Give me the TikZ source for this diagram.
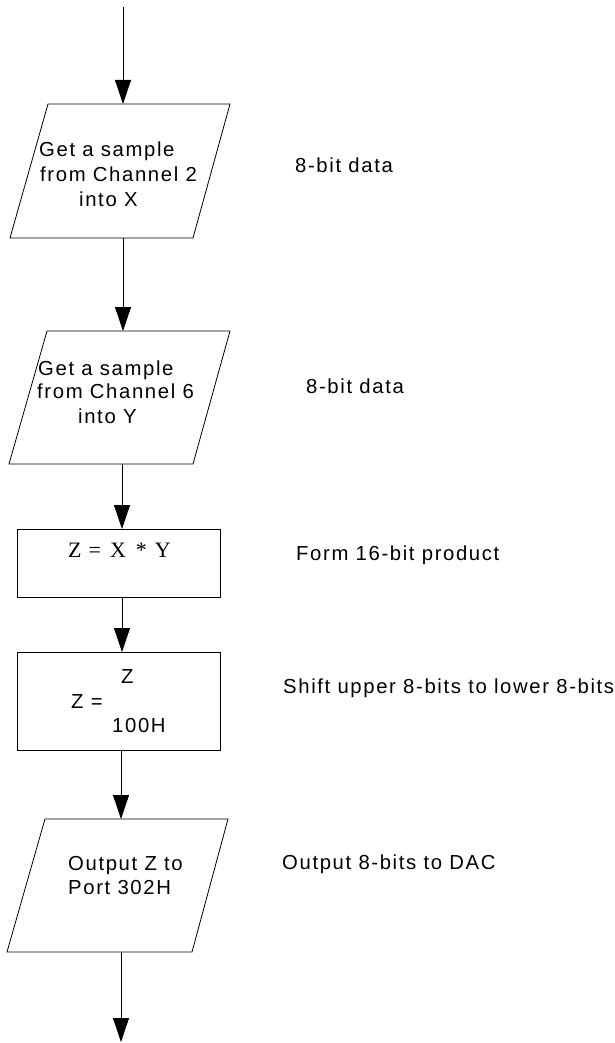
\documentclass[tikz,border=0pt]{standalone}
\usepackage{fontspec}
\setmainfont{Liberation Sans}[LetterSpace=8]
\newfontfamily\serifz{Liberation Serif}
\usetikzlibrary{arrows.meta}
\begin{document}
\begin{tikzpicture}[x=1pt,y=-1pt,
  shp/.style={draw=black,line width=0.8pt,line join=miter},
  arr/.style={draw=black,line width=0.8pt,-{Triangle[width=16pt,length=24pt]}},
  txt/.style={anchor=base west,inner sep=0pt,font=\fontsize{20.3}{24}\selectfont},
  stxt/.style={anchor=base west,inner sep=0pt,font=\serifz\fontsize{22}{24}\selectfont}]
\useasboundingbox (0,0) rectangle (614,1043);
% connection points
\coordinate (s0) at (123,7);
\coordinate (p1t) at (123,104);
\coordinate (p1b) at (123,238);
\coordinate (p2t) at (123,331);
\coordinate (p2b) at (122,464);
\coordinate (r1t) at (122,529);
\coordinate (r1b) at (122,597);
\coordinate (r2t) at (122,652);
\coordinate (r2b) at (121,750);
\coordinate (p3t) at (121,819);
\coordinate (p3b) at (121,952);
\coordinate (e0) at (121,1042);
% shapes
\draw[shp] (48,104) -- (230,104) -- (193,238) -- (10,238) -- cycle;
\draw[shp] (47,331) -- (230,331) -- (193,464) -- (9,464) -- cycle;
\draw[shp] (17,529) rectangle (220,597);
\draw[shp] (17,652) rectangle (220,750);
\draw[shp] (45,819) -- (228,819) -- (192,952) -- (7,952) -- cycle;
% connectors
\draw[arr] (s0) -- (p1t);
\draw[arr] (p1b) -- (p2t);
\draw[arr] (p2b) -- (r1t);
\draw[arr] (r1b) -- (r2t);
\draw[arr] (r2b) -- (p3t);
\draw[arr] (p3b) -- (e0);
% box texts
\node[txt] (a1) at (39,157) {Get a sample};
\node[txt] (a2) at (40,182) {from Channel 2};
\node[txt] (a3) at (79,206) {into X};
\node[txt] (b1) at (38,375) {Get a sample};
\node[txt] (b2) at (37,398) {from Channel 6};
\node[txt] (b3) at (78,423) {into Y};
\node[stxt] (c1) at (68,557) {Z\hspace{7pt}=\hspace{9pt}X\hspace{10pt}*\hspace{8pt}Y};
\node[txt] (d1) at (121,683) {Z};
\node[txt] (d2) at (71,708) {Z =};
\node[txt] (d3) at (112,732) {100H};
\node[txt] (e1) at (68,870) {Output Z to};
\node[txt] (e2) at (68,894) {Port 302H};
% side labels
\node[txt] (l1) at (295,173) {8-bit data};
\node[txt] (l2) at (306,393) {8-bit data};
\node[txt] (l3) at (296,560) {Form 16-bit product};
\node[txt] (l4) at (283,693) {Shift upper 8-bits to lower 8-bits};
\node[txt] (l5) at (282,869) {Output 8-bits to DAC};
\end{tikzpicture}
\end{document}
